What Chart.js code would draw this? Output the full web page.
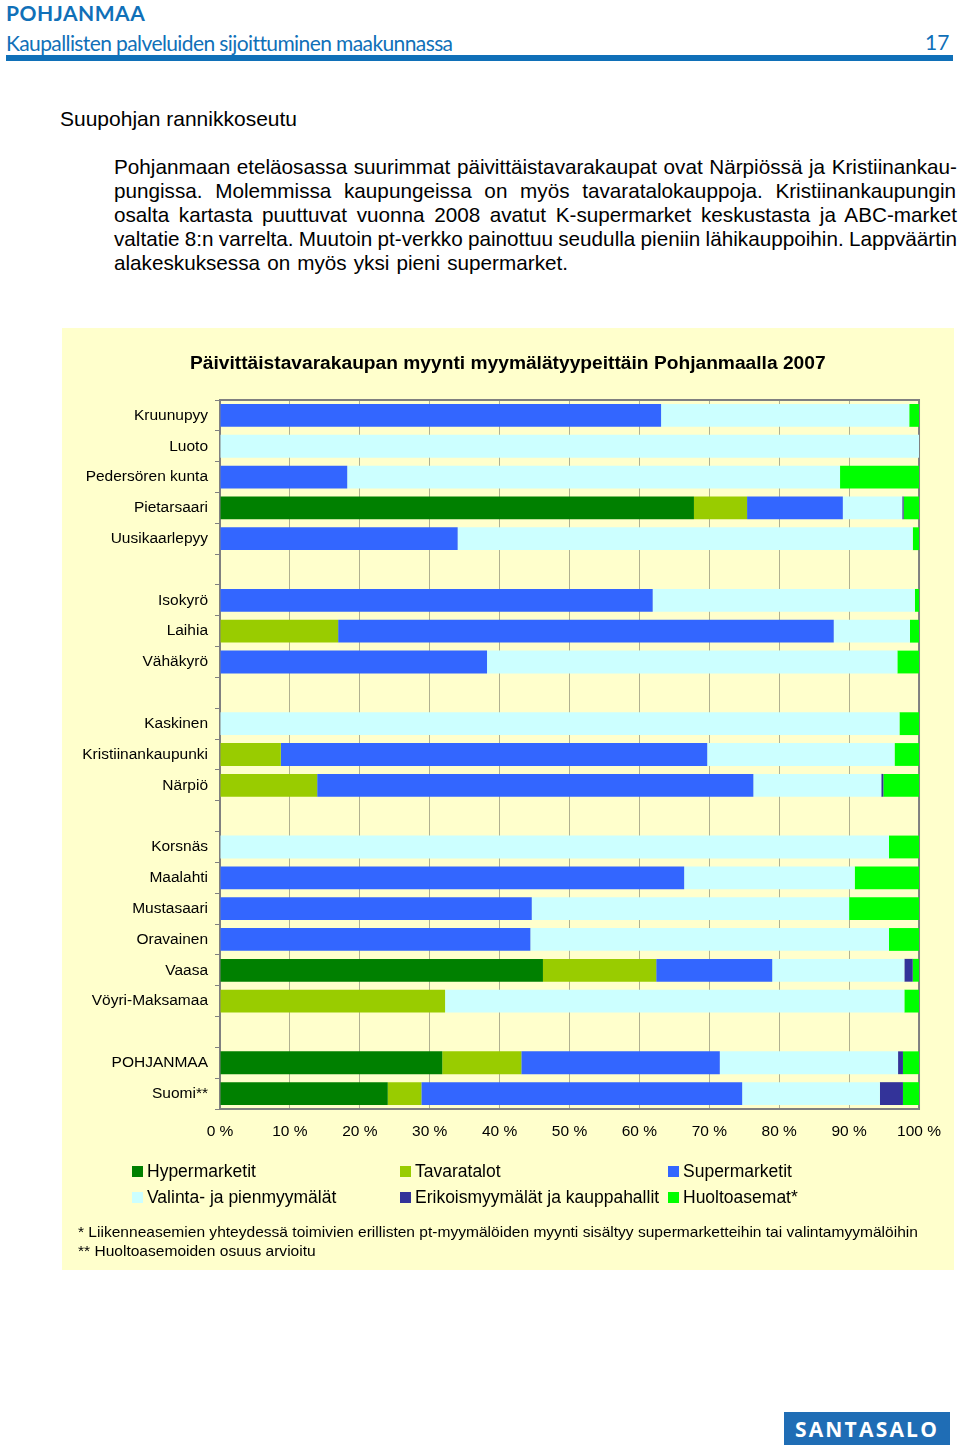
<!DOCTYPE html>
<html lang="fi">
<head>
<meta charset="utf-8">
<title>Pohjanmaa</title>
<script src="https://cdn.jsdelivr.net/npm/chart.js@4/dist/chart.umd.min.js"></script>
<style>
  html, body { margin: 0; padding: 0; background: #fff; }
  body { position: relative; width: 960px; height: 1445px; overflow: hidden; font-family: "Liberation Sans", Arial, sans-serif; color: #000; }
  .abs { position: absolute; white-space: nowrap; }
  .head { color: #1070b8; font-family: Lato, sans-serif; }
  #rule { position: absolute; left: 6px; top: 55px; width: 947px; height: 6px; background: #1070b8; }
  #panel { position: absolute; left: 62px; top: 328px; width: 892px; height: 942px; background: #ffffcc; }
  #chart { position: absolute; left: 62px; top: 328px; }
  .line { font-size: 20.7px; left: 114px; line-height: 24px; }
  .leg { font-size: 17.5px; line-height: 22px; display: flex; align-items: center; }
  .leg i { display: inline-block; width: 11px; height: 11px; margin-right: 4px; }
  .note { font-size: 15.55px; line-height: 19px; left: 78px; }
  #logo { position: absolute; left: 784px; top: 1412px; width: 166px; height: 33px; background: #1f6db5; color: #fff; font: bold 21px/34px "Open Sans", sans-serif; letter-spacing: 2.2px; text-align: center; }
</style>
</head>
<body>
<div class="abs head" style="left:6px;top:-2px;font-size:21px;font-weight:bold;line-height:30px;letter-spacing:.5px">POHJANMAA</div>
<div class="abs head" style="left:6px;top:29px;font-size:21px;line-height:28px;letter-spacing:-.6px">Kaupallisten palveluiden sijoittuminen maakunnassa</div>
<div class="abs head" style="left:925px;top:28px;font-size:21px;line-height:28px">17</div>
<div id="rule"></div>

<div class="abs" style="left:60px;top:106px;font-size:21px;line-height:26px">Suupohjan rannikkoseutu</div>
<div class="abs line" data-w="843" style="top:155px">Pohjanmaan eteläosassa suurimmat päivittäistavarakaupat ovat Närpiössä ja Kristiinankau-</div>
<div class="abs line" data-w="842" style="top:179px">pungissa. Molemmissa kaupungeissa on myös tavaratalokauppoja. Kristiinankaupungin</div>
<div class="abs line" data-w="843" style="top:203px">osalta kartasta puuttuvat vuonna 2008 avatut K-supermarket keskustasta ja ABC-market</div>
<div class="abs line" data-w="843" style="top:227px">valtatie 8:n varrelta. Muutoin pt-verkko painottuu seudulla pieniin lähikauppoihin. Lappväärtin</div>
<div class="abs line" data-w="454" style="top:251px">alakeskuksessa on myös yksi pieni supermarket.</div>

<div id="panel"></div>
<canvas id="chart" width="892" height="942"></canvas>
<div class="abs" style="left:190px;top:351px;font-size:19.2px;line-height:24px;font-weight:bold">Päivittäistavarakaupan myynti myymälätyypeittäin Pohjanmaalla 2007</div>
<div id="legend"></div>
<div class="abs note" style="top:1222px">* Liikenneasemien yhteydessä toimivien erillisten pt-myymälöiden myynti sisältyy supermarketteihin tai valintamyymälöihin</div>
<div class="abs note" style="top:1241px">** Huoltoasemoiden osuus arvioitu</div>
<div id="logo">SANTASALO</div>

<script>
const kunnat = ["Kruunupyy", "Luoto", "Pedersören kunta", "Pietarsaari", "Uusikaarlepyy", "",
  "Isokyrö", "Laihia", "Vähäkyrö", "",
  "Kaskinen", "Kristiinankaupunki", "Närpiö", "",
  "Korsnäs", "Maalahti", "Mustasaari", "Oravainen", "Vaasa", "Vöyri-Maksamaa", "",
  "POHJANMAA", "Suomi**"];

// osuudet % luettu kuvasta, sama järjestys kuin kunnat
const hypermarketit = [0, 0, 0, 67.8, 0, null, 0, 0, 0, null, 0, 0, 0, null, 0, 0, 0, 0, 46.2, 0, null, 31.8, 24.0];
const tavaratalot = [0, 0, 0, 7.6, 0, null, 0, 16.9, 0, null, 0, 8.7, 13.9, null, 0, 0, 0, 0, 16.2, 32.2, null, 11.3, 4.8];
const supermarketit = [63.1, 0, 18.2, 13.7, 34.0, null, 61.9, 70.9, 38.2, null, 0, 61.0, 62.4, null, 0, 66.4, 44.6, 44.4, 16.6, 0, null, 28.4, 45.9];
const valinta = [35.5, 100, 70.5, 8.5, 65.1, null, 37.5, 10.9, 58.7, null, 97.2, 26.8, 18.3, null, 95.7, 24.4, 45.4, 51.3, 18.9, 65.7, null, 25.5, 19.7];
const erikois = [0, 0, 0, 0.2, 0, null, 0, 0, 0, null, 0, 0, 0.3, null, 0, 0, 0, 0, 1.2, 0, null, 0.7, 3.3];
const huolto = [1.4, 0, 11.3, 2.2, 0.9, null, 0.6, 1.3, 3.1, null, 2.8, 3.5, 5.1, null, 4.3, 9.2, 10.0, 4.3, 0.9, 2.1, null, 2.3, 2.3];

const sarjat = [
  { label: "Hypermarketit", data: hypermarketit, backgroundColor: "#008000" },
  { label: "Tavaratalot", data: tavaratalot, backgroundColor: "#99cc00" },
  { label: "Supermarketit", data: supermarketit, backgroundColor: "#3366ff" },
  { label: "Valinta- ja pienmyymälät", data: valinta, backgroundColor: "#ccffff" },
  { label: "Erikoismyymälät ja kauppahallit", data: erikois, backgroundColor: "#333399" },
  { label: "Huoltoasemat*", data: huolto, backgroundColor: "#00ff00" }
];

const xTicks = [0, 10, 20, 30, 40, 50, 60, 70, 80, 90, 100];

// tekstirivit tasataan sanavälillä kuten palstassa
document.querySelectorAll(".line").forEach(el => {
  const vali = el.textContent.split(" ").length - 1;
  el.style.wordSpacing = (el.dataset.w - el.getBoundingClientRect().width) / vali + "px";
});

// kehys kuvaajan ympärille, palkit piirtyvät päälle
const kehys = {
  id: "kehys",
  beforeDatasetsDraw(chart) {
    const { ctx, chartArea: a } = chart;
    ctx.save();
    ctx.strokeStyle = "#808080";
    ctx.lineWidth = 2;
    ctx.strokeRect(a.left, a.top, a.right - a.left, a.bottom - a.top);
    ctx.restore();
  }
};

const chart = new Chart(document.getElementById("chart"), {
  type: "bar",
  data: { labels: kunnat, datasets: sarjat },
  plugins: [kehys],
  options: {
    indexAxis: "y",
    responsive: false,
    animation: false,
    barPercentage: 0.74,
    categoryPercentage: 1,
    layout: { padding: { left: 0, right: 34, top: 72, bottom: 121 } },
    plugins: {
      legend: { display: false },
      tooltip: { enabled: false }
    },
    scales: {
      x: {
        stacked: true,
        min: 0,
        max: 100,
        afterBuildTicks(scale) { scale.ticks = xTicks.map(v => ({ value: v })); },
        afterFit(scale) { scale.height = 40; },
        grid: { color: "#b0b090", lineWidth: 1, drawTicks: false },
        border: { display: false },
        ticks: {
          padding: 13,
          maxRotation: 0,
          color: "#000",
          font: { family: "Liberation Sans", size: 15.5 },
          callback: v => v + " %"
        }
      },
      y: {
        stacked: true,
        afterFit(scale) { scale.width = 158; },
        grid: { offset: true, drawOnChartArea: false, color: "#808080", tickLength: 5 },
        border: { display: false },
        ticks: {
          autoSkip: false,
          padding: 7,
          color: "#000",
          font: { family: "Liberation Sans", size: 15.5 }
        }
      }
    }
  }
});

// selite samaan ruudukkoon kuin alkuperäisessä
const legendBox = document.getElementById("legend");
const sarakkeet = [132, 400, 668];
const rivit = [1160, 1186];
chart.data.datasets.forEach((d, i) => {
  const el = document.createElement("div");
  el.className = "abs leg";
  el.style.left = sarakkeet[i % 3] + "px";
  el.style.top = rivit[Math.floor(i / 3)] + "px";
  el.innerHTML = `<i style="background:${d.backgroundColor}"></i>${d.label}`;
  legendBox.appendChild(el);
});
</script>
</body>
</html>
